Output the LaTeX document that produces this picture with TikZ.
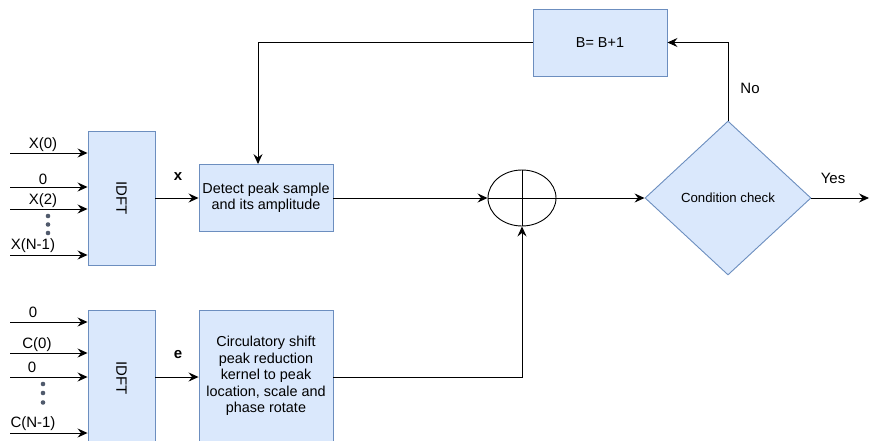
\documentclass[tikz,border=0pt]{standalone}
\usepackage{fontspec}
\setmainfont{Liberation Sans}
\usetikzlibrary{arrows.meta,shapes.geometric}
\definecolor{boxfill}{HTML}{DAE8FC}
\definecolor{boxdraw}{HTML}{6C8EBF}
\definecolor{dotc}{HTML}{505A6C}
\tikzset{
  blk/.style={draw=boxdraw,fill=boxfill,line width=0.9pt,inner sep=0pt,align=center,font=\fontsize{14.4}{16.5}\selectfont},
  conn/.style={draw=black,line width=0.9pt,-{Stealth[length=10pt,width=9pt,inset=3.5pt,fill=black]}},
  plain/.style={line width=0.9pt},
  lbl/.style={font=\fontsize{15}{17}\selectfont,inner sep=0pt},
  vdot/.style={circle,fill=dotc,inner sep=0pt,minimum size=4.6pt},
}
\begin{document}
\begin{tikzpicture}[x=1pt,y=-1pt]
\useasboundingbox (0,0) rectangle (870,441);
% IDFT boxes
\node[blk,minimum width=67pt,minimum height=134pt] (idft1) at (121.5,198) {\rotatebox{-90}{\fontsize{15}{17}\selectfont IDFT}};
\node[blk,minimum width=67pt,minimum height=136pt] (idft2) at (121.5,378) {\rotatebox{-90}{\fontsize{15}{17}\selectfont IDFT}};
% Detect / circ boxes
\node[blk,minimum width=134pt,minimum height=67pt] (det) at (266,198) {Detect peak sample\\and its amplitude};
\node[blk,minimum width=134pt,minimum height=136pt] (circ) at (266,378) {};
\node[font=\fontsize{14.4}{16.5}\selectfont,align=center,inner sep=0pt] (circtxt) at (266,376) {Circulatory shift\\peak reduction\\kernel to peak\\location, scale and\\phase rotate};
% B box
\node[blk,minimum width=134pt,minimum height=67pt] (bb) at (600,42.5) {B= B+1};
% adder
\node[draw,ellipse,line width=0.9pt,minimum width=68pt,minimum height=56pt,inner sep=0pt] (add) at (522,198) {};
\draw[plain] (add.north) -- (add.south);
\draw[plain] (add.west) -- (add.east);
% diamond
\node[diamond,draw=boxdraw,fill=boxfill,line width=0.9pt,minimum width=166pt,minimum height=154pt,inner sep=0pt,aspect=1.08,font=\fontsize{13.2}{15}\selectfont] (cond) at (728,198) {Condition check};
% inputs top
\coordinate (a1) at (10,153);
\coordinate (a2) at (10,187);
\coordinate (a3) at (10,209);
\coordinate (a4) at (10,255);
\foreach \c in {a1,a2,a3,a4} \draw[conn] (\c) -- (\c -| idft1.west);
\node[lbl] (l1) at (43,145) {X(0)};
\node[lbl] (l2) at (43,179) {0};
\node[lbl] (l3) at (43,201) {X(2)};
\node[lbl] (l4) at (33,246) {X(N-1)};
\node[vdot] (d1) at (48,216) {};
\node[vdot] (d2) at (48,224.5) {};
\node[vdot] (d3) at (48,233) {};
% inputs bottom
\coordinate (b1) at (10,322);
\coordinate (b2) at (10,353);
\coordinate (b3) at (10,377);
\coordinate (b4) at (10,433);
\foreach \c in {b1,b2,b3,b4} \draw[conn] (\c) -- (\c -| idft2.west);
\node[lbl] (m1) at (33,312) {0};
\node[lbl] (m2) at (37,345) {C(0)};
\node[lbl] (m3) at (32,367) {0};
\node[lbl] (m4) at (33,424) {C(N-1)};
\node[vdot] (e1) at (43,384) {};
\node[vdot] (e2) at (43,393) {};
\node[vdot] (e3) at (43,402.5) {};
% outputs of IDFT
\draw[conn] (idft1.east |- det.west) -- (det.west);
\node[lbl,font=\bfseries\fontsize{15}{17}\selectfont] (xl) at (178,177) {x};
\coordinate (ce) at (circ.west |- 0,377);
\draw[conn] (idft2.east |- ce) -- (ce);
\node[lbl,font=\bfseries\fontsize{15}{17}\selectfont] (el) at (178,355) {e};
% detect to adder
\draw[conn] (det.east) -- (add.west);
% circ to adder
\draw[conn] (circ.east |- ce) -| (add.south);
% adder to cond
\draw[conn] (add.east) -- (cond.west);
% cond yes
\coordinate (yend) at (869,198);
\draw[conn] (cond.east) -- (yend);
\node[lbl] (yes) at (833,178) {Yes};
% cond no
\draw[conn] (cond.north) |- (bb.east);
\node[lbl] (no) at (750,88) {No};
% B back to detect
\coordinate (bturn) at (258,42.5);
\draw[conn] (bb.west) -- (bturn) -- (bturn |- det.north);
\end{tikzpicture}
\end{document}
